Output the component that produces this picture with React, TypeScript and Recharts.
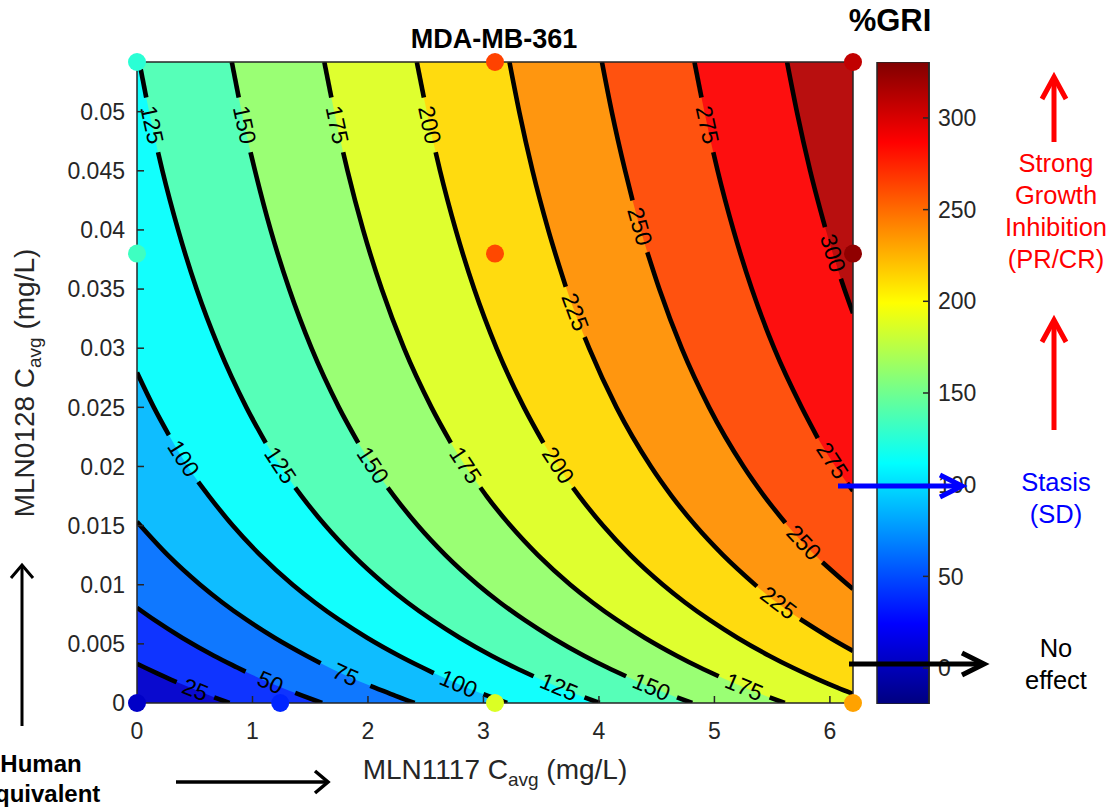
import React from "react";
import { ComposedChart, Area, Line, Scatter, Bar, XAxis, YAxis } from "recharts";

// axis ranges
const XMAX = 6.2;
const YMAX = 0.0542;
const CMIN = -19.6;
const CMAX = 330.5;

const xTicks = [0, 1, 2, 3, 4, 5, 6];
const yTicks = [0, 0.005, 0.01, 0.015, 0.02, 0.025, 0.03, 0.035, 0.04, 0.045, 0.05];
const cTicks = [0, 50, 100, 150, 200, 250, 300];

// contour lines, one list of [x, y] pieces per level (pieces are split where the label sits)
const c25 = [
  [[0, 0.00332], [0.067, 0.003], [0.175, 0.0025], [0.288, 0.002], [0.343, 0.00177]],
  [[0.668, 0.00048], [0.801, 0]],
];
const c50 = [
  [[0, 0.00805], [0.153, 0.007], [0.394, 0.0055], [0.666, 0.004], [0.868, 0.003], [0.94, 0.00265]],
  [[1.37, 0.00085], [1.438, 0.0006], [1.603, 0]],
];
const c75 = [
  [[0, 0.01532], [0.267, 0.0125], [0.547, 0.01], [0.739, 0.0085], [0.954, 0.007], [1.195, 0.0055], [1.467, 0.004], [1.59, 0.00336]],
  [[2.02, 0.00145], [2.059, 0.0013], [2.239, 0.0006], [2.404, 0]],
];
const c100 = [
  [[0, 0.02794], [0.146, 0.025], [0.276, 0.02266]],
  [[0.53, 0.0187], [0.623, 0.0175], [0.829, 0.015], [1.068, 0.0125], [1.348, 0.01], [1.541, 0.0085], [1.755, 0.007], [1.996, 0.0055], [2.269, 0.004], [2.471, 0.003], [2.57, 0.00253]],
  [[3.0, 0.00074], [3.04, 0.0006], [3.205, 0]],
];
const c125 = [
  [[0.02, 0.0542], [0.08, 0.0512]],
  [[0.182, 0.04657], [0.22, 0.045], [0.356, 0.04], [0.516, 0.035], [0.71, 0.03], [0.947, 0.025], [1.115, 0.022]],
  [[1.37, 0.01822], [1.425, 0.0175], [1.631, 0.015], [1.87, 0.0125], [2.15, 0.01], [2.342, 0.0085], [2.557, 0.007], [2.798, 0.0055], [3.07, 0.004], [3.272, 0.003], [3.434, 0.00226]],
  [[3.875, 0.00047], [4.006, 0]],
];
const c150 = [
  [[0.821, 0.0542], [0.881, 0.0512]],
  [[0.983, 0.04657], [1.022, 0.045], [1.157, 0.04], [1.318, 0.035], [1.511, 0.03], [1.748, 0.025], [1.916, 0.022]],
  [[2.171, 0.01822], [2.226, 0.0175], [2.432, 0.015], [2.671, 0.0125], [2.951, 0.01], [3.143, 0.0085], [3.358, 0.007], [3.599, 0.0055], [3.871, 0.004], [4.073, 0.003], [4.235, 0.00226]],
  [[4.676, 0.00047], [4.808, 0]],
];
const c175 = [
  [[1.622, 0.0542], [1.683, 0.0512]],
  [[1.785, 0.04657], [1.823, 0.045], [1.958, 0.04], [2.119, 0.035], [2.312, 0.03], [2.55, 0.025], [2.718, 0.022]],
  [[2.973, 0.01822], [3.027, 0.0175], [3.233, 0.015], [3.472, 0.0125], [3.752, 0.01], [3.945, 0.0085], [4.159, 0.007], [4.4, 0.0055], [4.673, 0.004], [4.875, 0.003], [5.037, 0.00226]],
  [[5.478, 0.00047], [5.609, 0]],
];
const c200 = [
  [[2.423, 0.0542], [2.484, 0.0512]],
  [[2.586, 0.04657], [2.624, 0.045], [2.76, 0.04], [2.92, 0.035], [3.113, 0.03], [3.351, 0.025], [3.519, 0.022]],
  [[3.774, 0.01822], [3.829, 0.0175], [4.035, 0.015], [4.273, 0.0125], [4.554, 0.01], [4.746, 0.0085], [4.961, 0.007], [5.202, 0.0055], [5.474, 0.004], [5.676, 0.003], [5.897, 0.002], [6.065, 0.0013], [6.2, 0.00077]],
];
const c225 = [
  [[3.225, 0.0542], [3.31, 0.05], [3.425, 0.045], [3.561, 0.04], [3.713, 0.0352]],
  [[3.876, 0.03093], [3.915, 0.03], [4.152, 0.025], [4.45, 0.02], [4.63, 0.0175], [4.836, 0.015], [5.075, 0.0125], [5.368, 0.00986]],
  [[5.742, 0.0071], [6.003, 0.0055], [6.2, 0.0044]],
];
const c250 = [
  [[4.026, 0.0542], [4.111, 0.05], [4.227, 0.045], [4.291, 0.0425]],
  [[4.419, 0.03811], [4.523, 0.035], [4.716, 0.03], [4.954, 0.025], [5.252, 0.02], [5.431, 0.0175], [5.614, 0.01523]],
  [[5.935, 0.0119], [6.156, 0.01], [6.2, 0.00964]],
];
const c275 = [
  [[4.827, 0.0542], [4.888, 0.0512]],
  [[4.99, 0.04657], [5.028, 0.045], [5.164, 0.04], [5.324, 0.035], [5.517, 0.03], [5.755, 0.025], [5.895, 0.0224]],
  [[6.15, 0.01859], [6.2, 0.01793]],
];
const c300 = [
  [[5.629, 0.0542], [5.714, 0.05], [5.829, 0.045], [5.958, 0.04023]],
  [[6.095, 0.03587], [6.125, 0.035], [6.2, 0.03295]],
];

const contours = [
  { level: 25, segs: c25 },
  { level: 50, segs: c50 },
  { level: 75, segs: c75 },
  { level: 100, segs: c100 },
  { level: 125, segs: c125 },
  { level: 150, segs: c150 },
  { level: 175, segs: c175 },
  { level: 200, segs: c200 },
  { level: 225, segs: c225 },
  { level: 250, segs: c250 },
  { level: 275, segs: c275 },
  { level: 300, segs: c300 },
];

const doseX = [0, 1.24, 3.1, 6.2, 0, 3.1, 6.2, 0, 3.1, 6.2];
const doseY = [0, 0, 0, 0, 0.038, 0.038, 0.038, 0.0542, 0.0542, 0.0542];
const doseGri = [5, 37, 187, 231, 133, 262, 325, 126, 264, 308];

const FONT = '"Liberation Sans", Arial, Helvetica, sans-serif';
const W = 1111;
const H = 810;
const INK = "#262626";

const jetRgb = (v: number) => {
  const t = Math.min(1, Math.max(0, (v - CMIN) / (CMAX - CMIN)));
  const c = (k: number) => Math.min(1, Math.max(0, 1.5 - Math.abs(4 * t - k)));
  return [c(3), c(2), c(1)];
};
const jet = (v: number, white = 0) => {
  const [r, g, b] = jetRgb(v).map((u) => Math.round(255 * (u * (1 - white) + white)));
  return `rgb(${r},${g},${b})`;
};

const areaData = (segs: number[][][]) => {
  const pts = segs.flat();
  const d: any[] = pts.map(([x, y]) => ({ x, r: [y, YMAX] }));
  const last = pts[pts.length - 1];
  if (last[1] === 0 && last[0] < XMAX) d.push({ x: XMAX, r: [0, YMAX] });
  return d;
};

const labelData = (level: number, segs: number[][][]) => {
  const out: any[] = [];
  for (let i = 0; i < segs.length - 1; i++) {
    const a = segs[i][segs[i].length - 1];
    const b = segs[i + 1][0];
    out.push([
      { x: a[0], y: a[1] },
      { x: (a[0] + b[0]) / 2, y: (a[1] + b[1]) / 2, t: level, ax: a[0], ay: a[1], bx: b[0], by: b[1] },
      { x: b[0], y: b[1] },
    ]);
  }
  return out;
};

const SX = 716 / XMAX;
const SY = 641 / YMAX;

const renderLabel = (props: any) => {
  const { cx, cy, index, payload, points } = props;
  if (index !== 1 || cx == null || cy == null) return <g key={`n${index}`} />;
  let ang;
  if (points && points.length === 3 && points[0].x != null) {
    ang = (Math.atan2(points[2].y - points[0].y, points[2].x - points[0].x) * 180) / Math.PI;
  } else {
    ang = (Math.atan2(-(payload.by - payload.ay) * SY, (payload.bx - payload.ax) * SX) * 180) / Math.PI;
  }
  return (
    <text
      key="lab"
      x={cx}
      y={cy}
      transform={`rotate(${ang} ${cx} ${cy})`}
      textAnchor="middle"
      dominantBaseline="central"
      fontSize={23}
      fill="#000"
    >
      {payload.t}
    </text>
  );
};

const Dot = (props: any) => {
  const { cx, cy, payload } = props;
  return <circle cx={cx} cy={cy} r={9} fill={jet(payload.v)} />;
};

const Arrow = ({ x1, y1, x2, y2, color, w, back, spread }: any) => {
  const dx = x2 - x1;
  const dy = y2 - y1;
  const len = Math.hypot(dx, dy);
  const ux = dx / len;
  const uy = dy / len;
  const bx = x2 - ux * back;
  const by = y2 - uy * back;
  return (
    <g stroke={color} strokeWidth={w} fill="none">
      <line x1={x1} y1={y1} x2={x2 - ux * 1} y2={y2 - uy * 1} />
      <polyline points={`${bx - uy * spread},${by + ux * spread} ${x2},${y2} ${bx + uy * spread},${by - ux * spread}`} strokeLinejoin="miter" />
    </g>
  );
};

export default function App() {
  const dots = doseX.map((x, i) => ({ x, y: doseY[i], v: doseGri[i] }));
  const full = [
    { x: 0, r: [0, YMAX] },
    { x: XMAX, r: [0, YMAX] },
  ];
  const cbar = [{ name: "GRI", r: [CMIN, CMAX] }];
  const jetStops = [
    [0, "#000080"],
    [0.125, "#0000ff"],
    [0.375, "#00ffff"],
    [0.625, "#ffff00"],
    [0.875, "#ff0000"],
    [1, "#800000"],
  ];

  return (
    <div style={{ position: "absolute", left: 0, top: 0, width: W, height: H, fontFamily: FONT, background: "#fff", overflow: "hidden" }}>
      {/* filled contours */}
      <div style={{ position: "absolute", left: 0, top: 0 }}>
        <ComposedChart width={W} height={H} margin={{ top: 62, right: W - 853, bottom: H - 703, left: 137 }}>
          <XAxis type="number" dataKey="x" domain={[0, XMAX]} allowDataOverflow hide />
          <YAxis type="number" domain={[0, YMAX]} allowDataOverflow hide />
          <Area data={full} dataKey="r" type="linear" fill={jet(7, 0.04)} fillOpacity={1} stroke="none" isAnimationActive={false} />
          {contours.map((c) => (
            <Area
              key={`a${c.level}`}
              data={areaData(c.segs)}
              dataKey="r"
              type="monotone"
              fill={jet(c.level + 12.5, 0.06)}
              fillOpacity={1}
              stroke="none"
              isAnimationActive={false}
            />
          ))}
          {contours.flatMap((c) =>
            c.segs.map((s, i) => (
              <Line
                key={`l${c.level}-${i}`}
                data={s.map(([x, y]) => ({ x, y }))}
                dataKey="y"
                type="monotone"
                stroke="#000"
                strokeWidth={4.6}
                dot={false}
                activeDot={false}
                isAnimationActive={false}
              />
            ))
          )}
          {contours.flatMap((c) =>
            labelData(c.level, c.segs).map((d, i) => (
              <Line
                key={`t${c.level}-${i}`}
                data={d}
                dataKey="y"
                type="linear"
                stroke="none"
                dot={renderLabel}
                activeDot={false}
                isAnimationActive={false}
              />
            ))
          )}
        </ComposedChart>
      </div>

      {/* axes box and observed dose points */}
      <div style={{ position: "absolute", left: 0, top: 0 }}>
        <ComposedChart width={W} height={H} margin={{ top: 52, right: W - 853 - 10, bottom: H - 703 - 30, left: 137 - 80 }}>
          <XAxis
            xAxisId="b"
            type="number"
            dataKey="x"
            domain={[0, XMAX]}
            ticks={xTicks}
            height={30}
            tickSize={-7}
            tickMargin={27}
            tick={{ fill: INK, fontSize: 23 }}
            axisLine={{ stroke: INK, strokeWidth: 1.5 }}
            tickLine={{ stroke: INK, strokeWidth: 1.5 }}
          />
          <XAxis
            xAxisId="t"
            orientation="top"
            type="number"
            dataKey="x"
            domain={[0, XMAX]}
            ticks={xTicks}
            height={10}
            tickSize={-7}
            tick={false}
            axisLine={{ stroke: INK, strokeWidth: 1.5 }}
            tickLine={{ stroke: INK, strokeWidth: 1.5 }}
          />
          <YAxis
            yAxisId="l"
            type="number"
            domain={[0, YMAX]}
            ticks={yTicks}
            width={80}
            tickSize={-7}
            tickMargin={19}
            tickFormatter={(v: number) => String(v)}
            tick={{ fill: INK, fontSize: 23 }}
            axisLine={{ stroke: INK, strokeWidth: 1.5 }}
            tickLine={{ stroke: INK, strokeWidth: 1.5 }}
          />
          <YAxis
            yAxisId="r"
            orientation="right"
            type="number"
            domain={[0, YMAX]}
            ticks={yTicks}
            width={10}
            tickSize={-7}
            tick={false}
            axisLine={{ stroke: INK, strokeWidth: 1.5 }}
            tickLine={{ stroke: INK, strokeWidth: 1.5 }}
          />
          <Scatter xAxisId="b" yAxisId="l" data={dots} dataKey="y" shape={<Dot />} isAnimationActive={false} />
        </ComposedChart>
      </div>

      {/* colour bar */}
      <div style={{ position: "absolute", left: 870, top: 0 }}>
        <ComposedChart width={150} height={H} data={cbar} margin={{ top: 62, right: 31, bottom: H - 704, left: 7 }} barCategoryGap={0} barGap={0}>
          <defs>
            <linearGradient id="jetV" x1="0" y1="1" x2="0" y2="0">
              {jetStops.map(([o, c]) => (
                <stop key={String(o)} offset={o as number} stopColor={c as string} />
              ))}
            </linearGradient>
          </defs>
          <XAxis dataKey="name" hide />
          <YAxis
            orientation="right"
            type="number"
            domain={[CMIN, CMAX]}
            allowDataOverflow
            ticks={cTicks}
            width={60}
            tickSize={-6}
            tickMargin={15}
            tick={{ fill: INK, fontSize: 23, textAnchor: "start" }}
            axisLine={{ stroke: INK, strokeWidth: 1.5 }}
            tickLine={{ stroke: INK, strokeWidth: 1.5 }}
          />
          <Bar dataKey="r" fill="url(#jetV)" stroke={INK} strokeWidth={1.5} isAnimationActive={false} />
        </ComposedChart>
      </div>

      {/* annotations */}
      <svg width={W} height={H} style={{ position: "absolute", left: 0, top: 0, pointerEvents: "none" }}>
        <text x={494} y={48} textAnchor="middle" fontSize={27} fontWeight="bold" fill="#000">
          MDA-MB-361
        </text>
        <text x={890} y={31} textAnchor="middle" fontSize={31} fontWeight="bold" fill="#000">
          %GRI
        </text>
        <text x={495} y={779} textAnchor="middle" fontSize={28} fill={INK}>
          MLN1117 C
          <tspan fontSize={19} dy={7}>avg</tspan>
          <tspan dy={-7}> (mg/L)</tspan>
        </text>
        <text x={34} y={383} textAnchor="middle" fontSize={28} fill={INK} transform="rotate(-90 34 383)">
          MLN0128 C
          <tspan fontSize={19} dy={7}>avg</tspan>
          <tspan dy={-7}> (mg/L)</tspan>
        </text>

        <text x={41} y={772} textAnchor="middle" fontSize={24} fontWeight="bold" fill="#000">
          Human
        </text>
        <text x={41} y={802} textAnchor="middle" fontSize={24} fontWeight="bold" fill="#000">
          equivalent
        </text>
        <Arrow x1={22} y1={726} x2={22} y2={565} color="#000" w={3} back={13} spread={11} />
        <Arrow x1={176} y1={782} x2={328} y2={782} color="#000" w={3.5} back={13} spread={11} />

        <Arrow x1={1054} y1={142} x2={1054} y2={77} color="#ff0000" w={5} back={22} spread={12} />
        <Arrow x1={1054} y1={430} x2={1054} y2={320} color="#ff0000" w={5} back={22} spread={12} />
        <g fill="#ff0000" fontSize={25.5} textAnchor="middle">
          <text x={1056} y={172}>Strong</text>
          <text x={1056} y={204}>Growth</text>
          <text x={1056} y={236}>Inhibition</text>
          <text x={1056} y={268}>(PR/CR)</text>
        </g>
        <Arrow x1={838} y1={486} x2={962} y2={486} color="#0000ff" w={5} back={22} spread={11} />
        <g fill="#0000ff" fontSize={25.5} textAnchor="middle">
          <text x={1056} y={491}>Stasis</text>
          <text x={1056} y={523}>(SD)</text>
        </g>
        <Arrow x1={849} y1={664} x2={984} y2={664} color="#000" w={5} back={22} spread={11} />
        <g fill="#000" fontSize={25.5} textAnchor="middle">
          <text x={1056} y={657}>No</text>
          <text x={1056} y={689}>effect</text>
        </g>
      </svg>
    </div>
  );
}
